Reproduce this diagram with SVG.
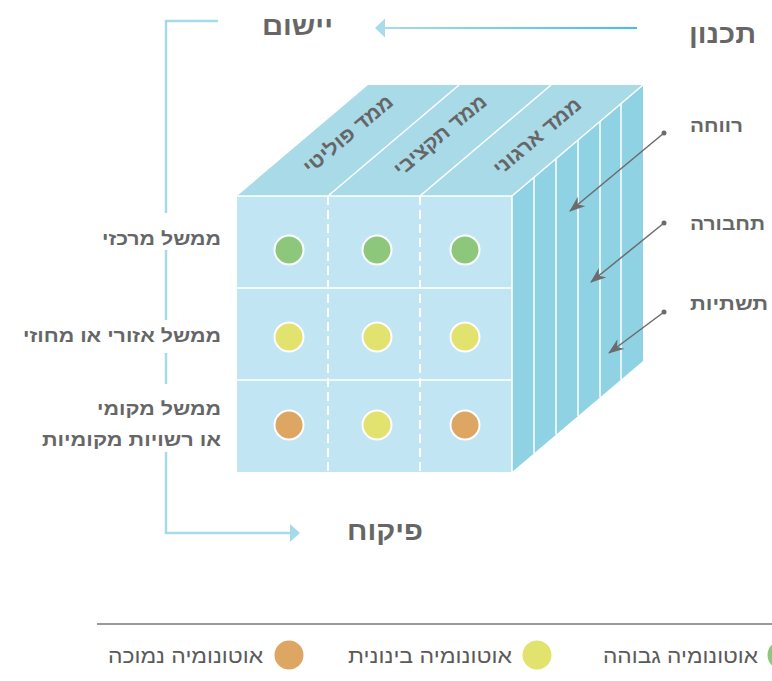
<svg xmlns="http://www.w3.org/2000/svg" width="772" height="681" viewBox="0 0 772 681">
  <defs>
    <style>
      .lbl { font-family: "Liberation Sans", "DejaVu Sans", sans-serif; font-weight: bold; fill: #666666; }
      .big { font-size: 26px; }
      .mid { font-size: 18px; }
      .rot { font-size: 20px; }
      .leg { font-family: "Liberation Sans", "DejaVu Sans", sans-serif; font-size: 20px; fill: #5a5a5a; }
      .wline { stroke: #ffffff; stroke-width: 1.5; fill: none; }
      .dash { stroke: #ffffff; stroke-width: 2; stroke-dasharray: 9 5; fill: none; }
      .bracket { stroke: #a6d9ea; stroke-width: 2.5; fill: none; }
      .ptr { stroke: #6b6b6b; stroke-width: 1.5; fill: none; }
      .dot { stroke: #ffffff; stroke-width: 2; }
      .g { fill: #8dc77b; }
      .y { fill: #e2e36f; }
      .o { fill: #dda763; }
    </style>
    <linearGradient id="topGrad" gradientUnits="userSpaceOnUse" x1="384" y1="0" x2="637" y2="0">
      <stop offset="0" stop-color="#a9dbea"/>
      <stop offset="1" stop-color="#3fc2e3"/>
    </linearGradient>
    <marker id="ah" viewBox="0 0 16 12" refX="15" refY="6" markerWidth="16" markerHeight="12" markerUnits="userSpaceOnUse" orient="auto">
      <path d="M16,6 L0,0 L5,6 L0,12 Z" fill="#6b6b6b"/>
    </marker>
  </defs>

  <!-- Cube -->
  <g id="cube">
    <polygon points="237,196 368,85 643,85 512,196" fill="#a9dae8"/>
    <polygon points="512,196 643,85 643,361 512,472" fill="#8fd2e3"/>
    <rect x="237" y="196" width="275" height="276" fill="#c1e5f2"/>
    <!-- top face dividers -->
    <line class="wline" x1="328" y1="196" x2="459" y2="85"/>
    <line class="wline" x1="420" y1="196" x2="551" y2="85"/>
    <line class="wline" x1="512" y1="196" x2="643" y2="85"/>
    <!-- right face stripes -->
    <line class="wline" x1="534" y1="177.4" x2="534" y2="453.4"/>
    <line class="wline" x1="556" y1="158.7" x2="556" y2="434.7"/>
    <line class="wline" x1="578" y1="140.1" x2="578" y2="416.1"/>
    <line class="wline" x1="600" y1="121.5" x2="600" y2="397.5"/>
    <line class="wline" x1="621" y1="103.7" x2="621" y2="379.7"/>
    <!-- front face -->
    <line class="wline" x1="237" y1="196" x2="512" y2="196"/>
    <line class="wline" x1="512" y1="196" x2="512" y2="472"/>
    <line class="wline" x1="237" y1="288" x2="512" y2="288"/>
    <line class="wline" x1="237" y1="380" x2="512" y2="380"/>
    <line class="dash" x1="328" y1="196" x2="328" y2="472"/>
    <line class="dash" x1="420" y1="196" x2="420" y2="472"/>
  </g>

  <g id="top-labels">
    <text class="lbl rot" text-anchor="middle" dy="0.35em" textLength="110" lengthAdjust="spacingAndGlyphs" transform="translate(348,134) rotate(-40)">ממד פוליטי</text>
    <text class="lbl rot" text-anchor="middle" dy="0.35em" textLength="114" lengthAdjust="spacingAndGlyphs" transform="translate(440,135) rotate(-40)">ממד תקציבי</text>
    <text class="lbl rot" text-anchor="middle" dy="0.35em" textLength="108" lengthAdjust="spacingAndGlyphs" transform="translate(537,136) rotate(-40)">ממד ארגוני</text>
  </g>

  <g id="cells">
    <circle class="dot g" cx="289" cy="250" r="14.5"/>
    <circle class="dot g" cx="377" cy="250" r="14.5"/>
    <circle class="dot g" cx="465" cy="250" r="14.5"/>
    <circle class="dot y" cx="289" cy="337" r="14.5"/>
    <circle class="dot y" cx="377" cy="337" r="14.5"/>
    <circle class="dot y" cx="465" cy="337" r="14.5"/>
    <circle class="dot o" cx="289" cy="425" r="14.5"/>
    <circle class="dot y" cx="377" cy="425" r="14.5"/>
    <circle class="dot o" cx="465" cy="425" r="14.5"/>
  </g>

  <!-- Connectors -->
  <g id="connectors">
    <line x1="637" y1="28" x2="384" y2="28" stroke="url(#topGrad)" stroke-width="2.2"/>
    <polygon points="375,28 385,18.5 385,37.5" fill="#a9dbea"/>
    <polyline class="bracket" points="218,21 166,21 166,213"/>
    <line class="bracket" x1="166" y1="250" x2="166" y2="320"/>
    <line class="bracket" x1="166" y1="353" x2="166" y2="384"/>
    <polyline class="bracket" points="166,452 166,533 291,533"/>
    <polygon points="300,533 290,524 290,542" fill="#a6d9ea"/>
    <line class="ptr" x1="664" y1="133" x2="570" y2="211" marker-end="url(#ah)"/>
    <circle cx="664" cy="133" r="2.5" fill="#6b6b6b"/>
    <line class="ptr" x1="664" y1="223" x2="591" y2="282" marker-end="url(#ah)"/>
    <circle cx="664" cy="223" r="2.5" fill="#6b6b6b"/>
    <line class="ptr" x1="664" y1="312" x2="609" y2="353" marker-end="url(#ah)"/>
    <circle cx="664" cy="312" r="2.5" fill="#6b6b6b"/>
  </g>

  <g id="label-yishum"><text class="lbl big" x="262" y="35" textLength="71" lengthAdjust="spacingAndGlyphs">יישום</text></g>
  <g id="label-tichnun"><text class="lbl big" x="689" y="43" textLength="67" lengthAdjust="spacingAndGlyphs">תכנון</text></g>
  <g id="label-pikuach"><text class="lbl big" x="347" y="540" textLength="76" lengthAdjust="spacingAndGlyphs">פיקוח</text></g>

  <g id="label-central"><text class="lbl mid" x="102" y="245" textLength="119" lengthAdjust="spacingAndGlyphs">ממשל מרכזי</text></g>
  <g id="label-regional"><text class="lbl mid" x="23" y="342" textLength="198" lengthAdjust="spacingAndGlyphs">ממשל אזורי או מחוזי</text></g>
  <g id="label-local">
    <text class="lbl mid" x="97" y="415" textLength="124" lengthAdjust="spacingAndGlyphs">ממשל מקומי</text>
    <text class="lbl mid" x="42" y="446" textLength="179" lengthAdjust="spacingAndGlyphs">או רשויות מקומיות</text>
  </g>

  <g id="label-revacha"><text class="lbl mid" x="690" y="132" textLength="53" lengthAdjust="spacingAndGlyphs">רווחה</text></g>
  <g id="label-tachbura"><text class="lbl mid" x="690" y="230" textLength="75" lengthAdjust="spacingAndGlyphs">תחבורה</text></g>
  <g id="label-tashtiyot"><text class="lbl mid" x="690" y="310" textLength="78" lengthAdjust="spacingAndGlyphs">תשתיות</text></g>

  <!-- Legend -->
  <g id="legend">
    <line x1="97" y1="624" x2="772" y2="624" stroke="#777777" stroke-width="1.5"/>
    <circle class="o" cx="289" cy="655" r="14.5"/>
    <text class="leg" x="108" y="663" textLength="155" lengthAdjust="spacingAndGlyphs">אוטונומיה נמוכה</text>
    <circle class="y" cx="537" cy="655" r="14.5"/>
    <text class="leg" x="348" y="663" textLength="164" lengthAdjust="spacingAndGlyphs">אוטונומיה בינונית</text>
    <circle class="g" cx="782" cy="655" r="14.5"/>
    <text class="leg" x="603" y="663" textLength="155" lengthAdjust="spacingAndGlyphs">אוטונומיה גבוהה</text>
  </g>
</svg>
